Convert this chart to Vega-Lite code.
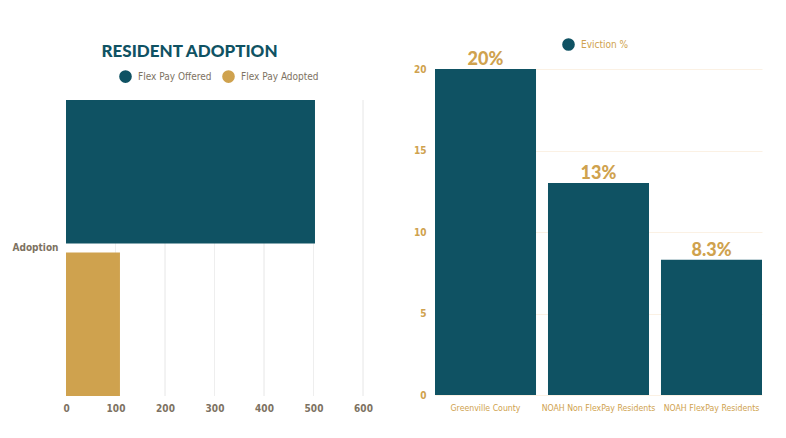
{
  "$schema": "https://vega.github.io/schema/vega-lite/v6.json",
  "background": "white",
  "padding": {"left": 12, "top": 38, "right": 20, "bottom": 5},
  "spacing": 40,
  "resolve": {"scale": {"color": "independent"}, "legend": {"color": "independent"}},
  "config": {
    "view": {"stroke": null},
    "axis": {
      "domain": false,
      "ticks": false,
      "title": null,
      "labelFont": "DejaVu Sans Condensed, Liberation Sans",
      "labelFontSize": 10,
      "labelFontWeight": "bold"
    },
    "legend": {
      "labelFont": "DejaVu Sans Condensed, Liberation Sans",
      "labelFontSize": 10
    }
  },
  "hconcat": [
    {
      "title": {
        "text": "RESIDENT ADOPTION",
        "font": "Lato",
        "fontWeight": 900,
        "fontSize": 17,
        "color": "#0F5263",
        "anchor": "middle",
        "dx": -25,
        "offset": 8
      },
      "width": 297,
      "height": 326,
      "layer": [
        {
          "data": {
            "values": [
              {"category": "Adoption", "tick": 100},
              {"category": "Adoption", "tick": 200},
              {"category": "Adoption", "tick": 300},
              {"category": "Adoption", "tick": 400},
              {"category": "Adoption", "tick": 500},
              {"category": "Adoption", "tick": 600}
            ]
          },
          "mark": {"type": "bar", "fill": null, "stroke": "#EEEEEE", "strokeWidth": 1},
          "encoding": {
            "x": {"field": "tick", "type": "quantitative"},
            "x2": {"field": "tick"},
            "y": {"field": "category", "type": "nominal"}
          }
        },
        {
          "data": {
            "values": [
              {"category": "Adoption", "series": "Flex Pay Offered", "value": 503},
              {"category": "Adoption", "series": "Flex Pay Adopted", "value": 109}
            ]
          },
          "mark": {"type": "bar"},
          "encoding": {
            "y": {
              "field": "category",
              "type": "nominal",
              "scale": {"paddingInner": 0, "paddingOuter": 0, "range": [31, 327]},
              "axis": {"labelColor": "#7D7262", "labelPadding": 8, "grid": false}
            },
            "yOffset": {
              "field": "series",
              "type": "nominal",
              "sort": ["Flex Pay Offered", "Flex Pay Adopted"],
              "scale": {"paddingInner": 0.06, "paddingOuter": 0}
            },
            "x": {
              "field": "value",
              "type": "quantitative",
              "scale": {"domain": [0, 600]},
              "axis": {
                "values": [0, 100, 200, 300, 400, 500, 600],
                "grid": false,
                "labelColor": "#7D7262",
                "labelPadding": 8,
                "labelFlush": false
              }
            },
            "color": {
              "field": "series",
              "type": "nominal",
              "scale": {
                "domain": ["Flex Pay Offered", "Flex Pay Adopted"],
                "range": ["#0F5263", "#CFA24E"]
              },
              "legend": {
                "title": null,
                "orient": "none",
                "legendX": 53,
                "legendY": 1,
                "direction": "horizontal",
                "symbolType": "circle",
                "symbolSize": 160,
                "symbolStrokeWidth": 0,
                "labelOffset": 6,
                "labelColor": "#7D7262",
                "columnPadding": 10
              }
            }
          }
        }
      ]
    },
    {
      "width": 327,
      "height": 326,
      "data": {
        "values": [
          {"name": "Greenville County", "value": 20, "label": "20%"},
          {"name": "NOAH Non FlexPay Residents", "value": 13, "label": "13%"},
          {"name": "NOAH FlexPay Residents", "value": 8.3, "label": "8.3%"}
        ]
      },
      "encoding": {
        "x": {
          "field": "name",
          "type": "nominal",
          "sort": null,
          "scale": {"paddingInner": 0.106, "paddingOuter": 0},
          "axis": {"labelAngle": 0, "labelColor": "#CFA24E", "labelPadding": 8, "labelFontSize": 8.7, "labelFontWeight": "normal"}
        },
        "y": {
          "field": "value",
          "type": "quantitative",
          "scale": {"domain": [0, 20]},
          "axis": {
            "values": [0, 5, 10, 15, 20],
            "grid": true,
            "gridColor": "#FBF1E4",
            "labelColor": "#CFA24E",
            "labelPadding": 9
          }
        }
      },
      "layer": [
        {
          "mark": {"type": "bar"},
          "encoding": {
            "color": {
              "datum": "Eviction %",
              "type": "nominal",
              "scale": {"range": ["#0F5263"]},
              "legend": {
                "title": null,
                "orient": "none",
                "legendX": 127,
                "legendY": -31,
                "symbolType": "circle",
                "symbolSize": 160,
                "symbolStrokeWidth": 0,
                "labelOffset": 6,
                "labelColor": "#CFA24E"
              }
            }
          }
        },
        {
          "mark": {
            "type": "text",
            "dy": -9,
            "font": "Lato",
            "fontWeight": 900,
            "fontSize": 18,
            "color": "#CFA24E"
          },
          "encoding": {"text": {"field": "label"}}
        }
      ]
    }
  ]
}
